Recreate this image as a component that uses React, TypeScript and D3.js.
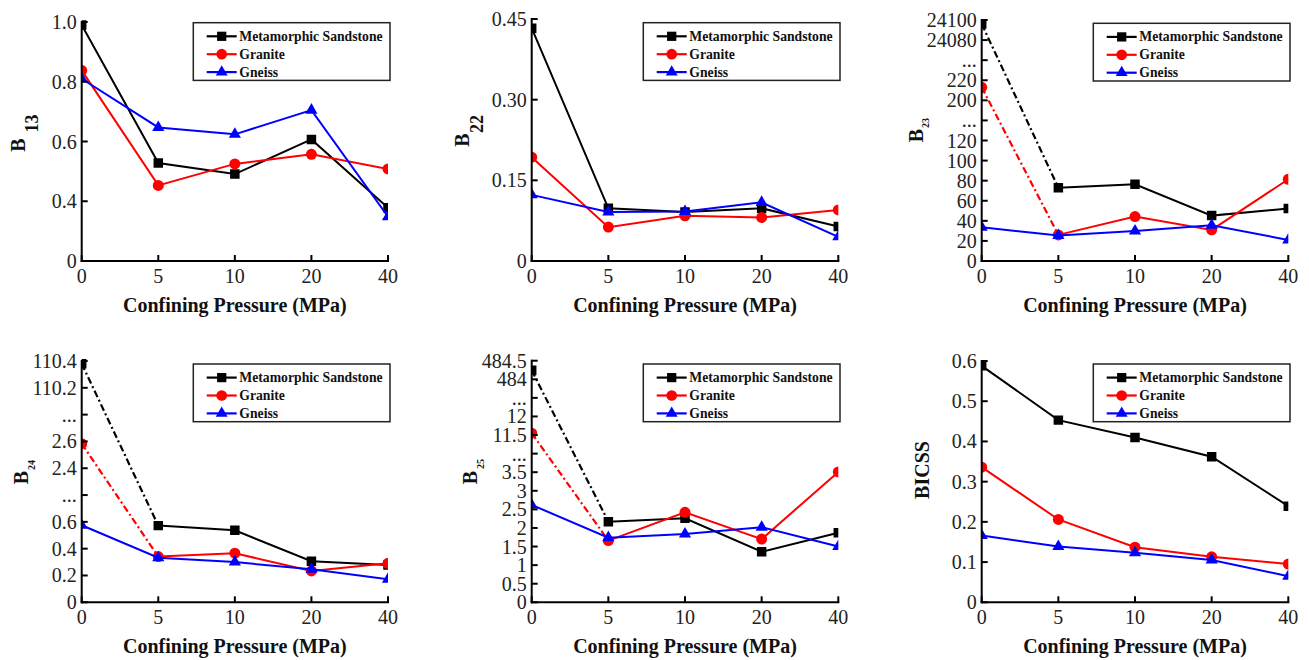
import React from 'react';
import * as d3 from 'd3';

// ---------- data ----------
const categories = ['0', '5', '10', '20', '40'];
const seriesNames = ['Metamorphic Sandstone', 'Granite', 'Gneiss'];
const seriesColors = ['#000000', '#ff0000', '#0000ff'];
const seriesShapes = ['square', 'circle', 'triangle'];
const xTitle = 'Confining Pressure (MPa)';

const b13Sandstone = [0.99, 0.528, 0.491, 0.607, 0.356];
const b13Granite = [0.838, 0.453, 0.525, 0.557, 0.508];
const b13Gneiss = [0.81, 0.647, 0.624, 0.705, 0.296];
const b13TickValues = [0, 0.4, 0.6, 0.8, 1.0];
const b13TickLabels = ['0', '0.4', '0.6', '0.8', '1.0'];
const b13Domain = [0, 0.4, 1.0];
const b13Steps = [0, 1, 4];

const b22Sandstone = [0.433, 0.098, 0.091, 0.098, 0.064];
const b22Granite = [0.193, 0.063, 0.084, 0.081, 0.095];
const b22Gneiss = [0.123, 0.091, 0.092, 0.109, 0.045];
const b22TickValues = [0, 0.15, 0.3, 0.45];
const b22TickLabels = ['0', '0.15', '0.30', '0.45'];
const b22Domain = [0, 0.45];
const b22Steps = [0, 3];

const b23Sandstone = [24096, 73, 76.4, 45.2, 52.2];
const b23Granite = [213, 26, 44.2, 31, 81.4];
const b23Gneiss = [33.6, 25.3, 29.9, 35.6, 21];
const b23TickValues = [0, 20, 40, 60, 80, 100, 120, 160, 200, 220, 12150, 24080, 24100];
const b23TickLabels = ['0', '20', '40', '60', '80', '100', '120', '...', '200', '220', '...', '24080', '24100'];
const b23Domain = [0, 120, 200, 220, 24080, 24100];
const b23Steps = [0, 6, 8, 9, 11, 12];

const b24Sandstone = [110.38, 0.572, 0.537, 0.306, 0.279];
const b24Granite = [2.583, 0.341, 0.366, 0.234, 0.291];
const b24Gneiss = [0.575, 0.333, 0.3, 0.246, 0.172];
const b24TickValues = [0, 0.2, 0.4, 0.6, 1.5, 2.4, 2.6, 56.4, 110.2, 110.4];
const b24TickLabels = ['0', '0.2', '0.4', '0.6', '...', '2.4', '2.6', '...', '110.2', '110.4'];
const b24Domain = [0, 0.6, 2.4, 2.6, 110.2, 110.4];
const b24Steps = [0, 3, 5, 6, 8, 9];

const b25Sandstone = [484.24, 2.17, 2.26, 1.36, 1.87];
const b25Granite = [11.55, 1.66, 2.42, 1.7, 3.57];
const b25Gneiss = [2.62, 1.74, 1.84, 2.02, 1.5];
const b25TickValues = [0, 0.5, 1, 1.5, 2, 2.5, 3, 3.5, 7.5, 11.5, 12, 248, 484, 484.5];
const b25TickLabels = ['0', '0.5', '1', '1.5', '2', '2.5', '3', '3.5', '...', '11.5', '12', '...', '484', '484.5'];
const b25Domain = [0, 3.5, 11.5, 12, 484, 484.5];
const b25Steps = [0, 7, 9, 10, 12, 13];

const bicssSandstone = [0.588, 0.453, 0.41, 0.362, 0.239];
const bicssGranite = [0.336, 0.206, 0.137, 0.113, 0.095];
const bicssGneiss = [0.166, 0.139, 0.123, 0.105, 0.065];
const bicssTickValues = [0, 0.1, 0.2, 0.3, 0.4, 0.5, 0.6];
const bicssTickLabels = ['0', '0.1', '0.2', '0.3', '0.4', '0.5', '0.6'];
const bicssDomain = [0, 0.6];
const bicssSteps = [0, 6];

// ---------- layout ----------
const FONT = "'Liberation Serif', 'Times New Roman', Times, serif";

type Panel = {
  id: string;
  x0: number; x1: number; yBottom: number; yTop: number;
  domain: number[]; steps: number[];
  tickValues: number[]; tickLabels: string[];
  series: number[][];
  dashedFirst: boolean[];
  main: string; sub: string;
  mainPos: [number, number]; subPos: [number, number]; subSize: number;
  legendY: number;
};

const panels: Panel[] = [
  {
    id: 'p1', x0: 81.7, x1: 388, yBottom: 261, yTop: 22,
    domain: b13Domain, steps: b13Steps, tickValues: b13TickValues, tickLabels: b13TickLabels,
    series: [b13Sandstone, b13Granite, b13Gneiss], dashedFirst: [false, false, false],
    main: 'B', sub: '13', mainPos: [24.5, 145], subPos: [38, 123.5], subSize: 18, legendY: 22.7,
  },
  {
    id: 'p2', x0: 531.7, x1: 838.3, yBottom: 261, yTop: 19,
    domain: b22Domain, steps: b22Steps, tickValues: b22TickValues, tickLabels: b22TickLabels,
    series: [b22Sandstone, b22Granite, b22Gneiss], dashedFirst: [false, false, false],
    main: 'B', sub: '22', mainPos: [469, 140], subPos: [483, 124], subSize: 18, legendY: 22.7,
  },
  {
    id: 'p3', x0: 981.7, x1: 1288.3, yBottom: 261, yTop: 20,
    domain: b23Domain, steps: b23Steps, tickValues: b23TickValues, tickLabels: b23TickLabels,
    series: [b23Sandstone, b23Granite, b23Gneiss], dashedFirst: [true, true, false],
    main: 'B', sub: '23', mainPos: [922.5, 135.5], subPos: [929, 123], subSize: 10, legendY: 23.3,
  },
  {
    id: 'p4', x0: 81.7, x1: 388, yBottom: 602.3, yTop: 361,
    domain: b24Domain, steps: b24Steps, tickValues: b24TickValues, tickLabels: b24TickLabels,
    series: [b24Sandstone, b24Granite, b24Gneiss], dashedFirst: [true, true, false],
    main: 'B', sub: '24', mainPos: [28, 477.5], subPos: [35, 465], subSize: 10, legendY: 364,
  },
  {
    id: 'p5', x0: 531.7, x1: 838.3, yBottom: 602.3, yTop: 360.7,
    domain: b25Domain, steps: b25Steps, tickValues: b25TickValues, tickLabels: b25TickLabels,
    series: [b25Sandstone, b25Granite, b25Gneiss], dashedFirst: [true, true, false],
    main: 'B', sub: '25', mainPos: [477, 477.5], subPos: [484, 464], subSize: 10, legendY: 364,
  },
  {
    id: 'p6', x0: 981.7, x1: 1288.3, yBottom: 602.3, yTop: 361,
    domain: bicssDomain, steps: bicssSteps, tickValues: bicssTickValues, tickLabels: bicssTickLabels,
    series: [bicssSandstone, bicssGranite, bicssGneiss], dashedFirst: [false, false, false],
    main: 'BICSS', sub: '', mainPos: [929, 470], subPos: [0, 0], subSize: 10, legendY: 364,
  },
];

function symbolPath(shape: string, size: number) {
  const type = shape === 'square' ? d3.symbolSquare : shape === 'circle' ? d3.symbolCircle : d3.symbolTriangle;
  return d3.symbol().type(type).size(size)() as string;
}
const markerSizes: Record<string, number> = { square: 90, circle: 95, triangle: 64 };

function PanelView({ p }: { p: Panel }) {
  const nSteps = p.steps[p.steps.length - 1];
  const stepPx = (p.yBottom - p.yTop) / nSteps;
  const y = d3.scaleLinear().domain(p.domain).range(p.steps.map((s) => p.yBottom - s * stepPx));
  const x = d3.scalePoint<string>().domain(categories).range([p.x0, p.x1]);
  const lineGen = d3.line<[number, number]>().x((d) => d[0]).y((d) => d[1]);
  const legendX = p.x0 + 111.6;
  const clipId = `clip-${p.id}`;

  return (
    <g>
      <defs>
        <clipPath id={clipId}>
          <rect x={p.x0} y={p.yTop - 12} width={p.x1 - p.x0} height={p.yBottom - p.yTop + 12} />
        </clipPath>
      </defs>
      <g clipPath={`url(#${clipId})`}>
        {p.series.map((vals, si) => {
          const pts: [number, number][] = vals.map((v, i) => [x(categories[i]) as number, y(v)]);
          const color = seriesColors[si];
          return (
            <g key={si}>
              {p.dashedFirst[si] ? (
                <>
                  <path d={lineGen(pts.slice(0, 2)) as string} fill="none" stroke={color} strokeWidth={2.2} strokeDasharray="7,3,2,3" />
                  <path d={lineGen(pts.slice(1)) as string} fill="none" stroke={color} strokeWidth={2} />
                </>
              ) : (
                <path d={lineGen(pts) as string} fill="none" stroke={color} strokeWidth={2} />
              )}
              {pts.map((pt, i) => (
                <path key={i} d={symbolPath(seriesShapes[si], markerSizes[seriesShapes[si]])} transform={`translate(${pt[0]},${pt[1]})`} fill={color} />
              ))}
            </g>
          );
        })}
      </g>
      {/* axes */}
      <line x1={p.x0} y1={p.yTop} x2={p.x0} y2={p.yBottom} stroke="#000" strokeWidth={2} strokeLinecap="square" />
      <line x1={p.x0} y1={p.yBottom} x2={p.x1} y2={p.yBottom} stroke="#000" strokeWidth={2} strokeLinecap="square" />
      {p.tickValues.map((tv, i) => (
        <g key={`yt${i}`}>
          <line x1={p.x0} x2={p.x0 + 6} y1={y(tv)} y2={y(tv)} stroke="#000" strokeWidth={2} />
          <text x={p.x0 - 5} y={y(tv)} textAnchor="end" dominantBaseline="central" fontFamily={FONT} fontSize={20} fill="#222">
            {p.tickLabels[i]}
          </text>
        </g>
      ))}
      {categories.map((c) => (
        <g key={`xt${c}`}>
          <line x1={x(c)} x2={x(c)} y1={p.yBottom} y2={p.yBottom - 6} stroke="#000" strokeWidth={2} />
          <text x={x(c)} y={p.yBottom + 22} textAnchor="middle" fontFamily={FONT} fontSize={20} fill="#222">
            {c}
          </text>
        </g>
      ))}
      <text x={(p.x0 + p.x1) / 2} y={p.yBottom + 51} textAnchor="middle" fontFamily={FONT} fontSize={20} fontWeight="bold" fill="#111">
        {xTitle}
      </text>
      {/* y title */}
      <text transform={`translate(${p.mainPos[0]},${p.mainPos[1]}) rotate(-90)`} textAnchor="middle" fontFamily={FONT} fontSize={20} fontWeight="bold" fill="#111">
        {p.main}
      </text>
      {p.sub && (
        <text transform={`translate(${p.subPos[0]},${p.subPos[1]}) rotate(-90)`} textAnchor="middle" fontFamily={FONT} fontSize={p.subSize} fontWeight="bold" fill="#111">
          {p.sub}
        </text>
      )}
      {/* legend */}
      <rect x={legendX} y={p.legendY} width={196.7} height={57.7} fill="#fff" stroke="#222" strokeWidth={1.5} />
      {seriesNames.map((name, si) => {
        const ry = p.legendY + 13.6 + si * 17.9;
        return (
          <g key={name}>
            <line x1={legendX + 13.4} x2={legendX + 43.4} y1={ry} y2={ry} stroke={seriesColors[si]} strokeWidth={2.2} />
            <path d={symbolPath(seriesShapes[si], markerSizes[seriesShapes[si]] * 0.95)} transform={`translate(${legendX + 28.4},${ry})`} fill={seriesColors[si]} />
            <text x={legendX + 46} y={ry} dominantBaseline="central" fontFamily={FONT} fontSize={13.7} fontWeight="bold" fill="#111">
              {name}
            </text>
          </g>
        );
      })}
    </g>
  );
}

export default function App() {
  return (
    <svg width={1309} height={660} style={{ position: 'absolute', left: 0, top: 0, background: '#fff' }}>
      <rect x={0} y={0} width={1309} height={660} fill="#fff" />
      {panels.map((p) => (
        <PanelView key={p.id} p={p} />
      ))}
    </svg>
  );
}
